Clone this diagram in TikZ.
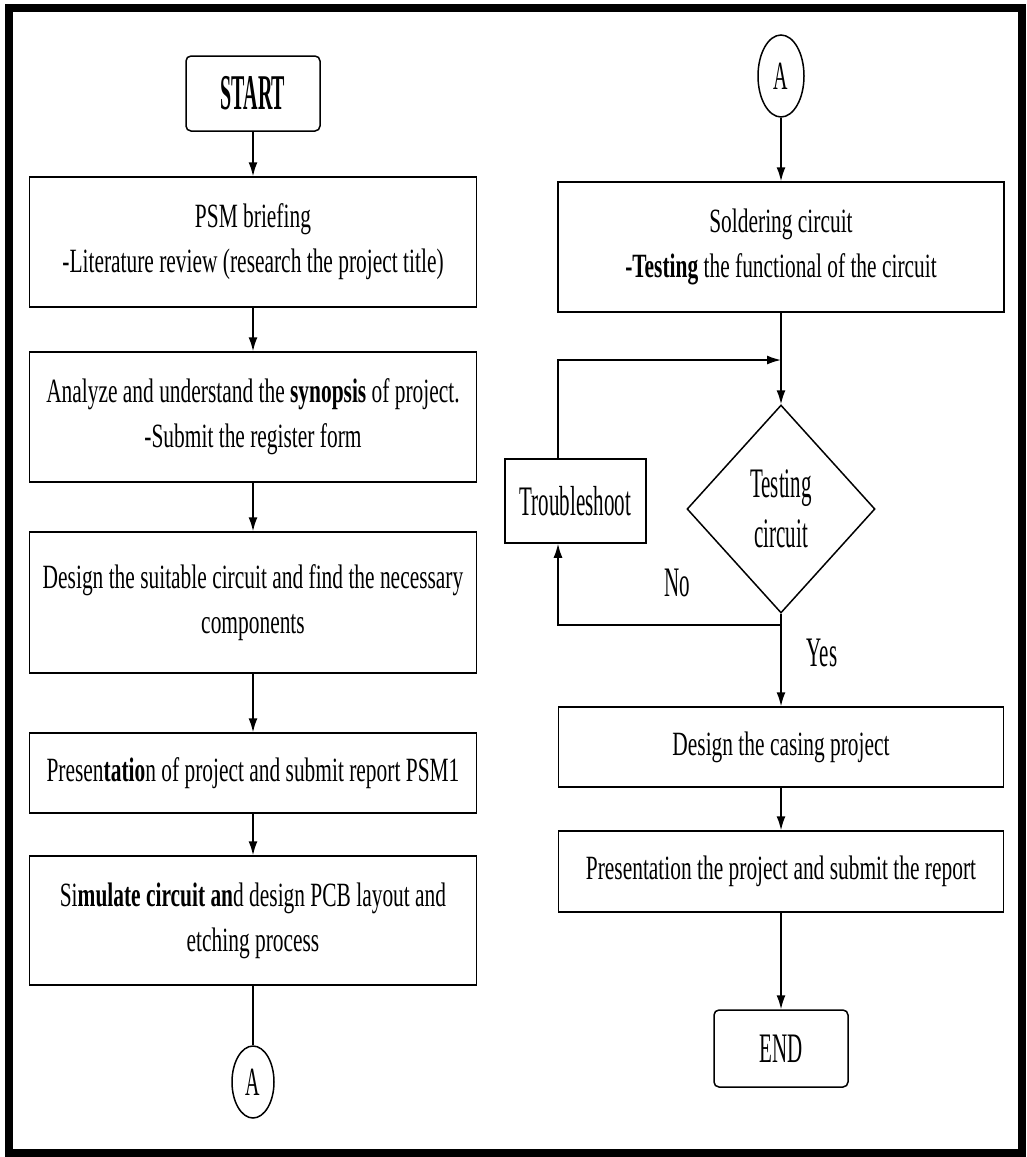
\documentclass[tikz,border=0pt]{standalone}
\usepackage{fontspec}
\setmainfont{Liberation Serif}
\newfontfamily\boxfont[FakeStretch=0.63]{Liberation Serif}
\newfontfamily\tallfont[FakeStretch=0.5]{Liberation Serif}
\newfontfamily\startfont[FakeStretch=0.4]{Liberation Serif}
\usetikzlibrary{shapes.geometric,arrows.meta}

\begin{document}
\begin{tikzpicture}[x=1pt,y=-1pt,line width=1.5pt,>={Latex[length=14pt,width=9pt]},
  proc/.style={draw,rectangle,inner sep=0pt,align=center,font=\boxfont\fontsize{34}{45}\selectfont},
  term/.style={draw,rectangle,rounded corners=5pt,inner sep=0pt,minimum width=134pt,minimum height=75pt},
  conn/.style={draw,ellipse,inner sep=0pt,font=\tallfont\fontsize{40}{40}\selectfont},
  lbl/.style={font=\tallfont\fontsize{42}{50}\selectfont}]
\useasboundingbox (0,0) rectangle (1026,1157);
\draw[line width=8pt] (9,8) rectangle (1022,1153);

\node[term,font=\startfont\bfseries\fontsize{50}{50}\selectfont] (start) at (253,93.5) {START};
\node[proc,minimum width=447pt,minimum height=130pt] (brief) at (253,242) {PSM briefing\\-Literature review (research the project title)};
\node[proc,minimum width=447pt,minimum height=130pt] (synopsis) at (253,417) {Analyze and understand the \textbf{synopsis} of project.\\-Submit the register form};
\node[proc,minimum width=447pt,minimum height=141pt] (design) at (253,602.5) {Design the suitable circuit and find the necessary\\components};
\node[proc,minimum width=447pt,minimum height=80pt] (present) at (253,773) {Presen\textbf{tatio}n of project and submit report PSM1};
\node[proc,minimum width=447pt,minimum height=129pt] (simulate) at (253,920.5) {Si\textbf{mulate circuit an}d design PCB layout and\\etching process};
\node[conn,minimum width=42pt,minimum height=72pt] (conA) at (253,1082) {A};

\node[conn,minimum width=46pt,minimum height=82pt] (conB) at (781,76) {A};
\node[proc,minimum width=446pt,minimum height=130pt] (solder) at (781,247) {Soldering circuit\\\textbf{-Testing} the functional of the circuit};
\node[draw,diamond,aspect=0.9,inner sep=0pt,minimum width=188pt,minimum height=208pt,align=center,lbl] (test) at (781,509) {Testing\\circuit};
\node[draw,rectangle,inner sep=0pt,minimum width=141pt,minimum height=84pt,lbl] (trouble) at (575.5,501) {Troubleshoot};
\node[proc,minimum width=445pt,minimum height=80pt] (casing) at (781,747) {Design the casing project};
\node[proc,minimum width=445pt,minimum height=81pt] (report) at (781,871.5) {Presentation the project and submit the report};
\node[term,minimum height=77pt,lbl] (finish) at (781,1048.5) {END};

\node[lbl] (no) at (677,583) {No};
\node[lbl] (yes) at (822,653) {Yes};

\coordinate (join) at (781,360);
\coordinate (loopup) at (558,360);
\coordinate (split) at (781,625);
\coordinate (loopdown) at (558,625);

\draw[->] (start) -- (brief);
\draw[->] (brief) -- (synopsis);
\draw[->] (synopsis) -- (design);
\draw[->] (design) -- (present);
\draw[->] (present) -- (simulate);
\draw (simulate) -- (conA);

\draw[->] (conB) -- (solder);
\draw[->] (solder) -- (test);
\draw[->] (test.south) -- (split) -- (loopdown) -- (trouble.south -| loopdown);
\draw[->] (trouble.north -| loopup) -- (loopup) -- (join);
\draw[->] (split) -- (casing);
\draw[->] (casing) -- (report);
\draw[->] (report) -- (finish);
\end{tikzpicture}
\end{document}
